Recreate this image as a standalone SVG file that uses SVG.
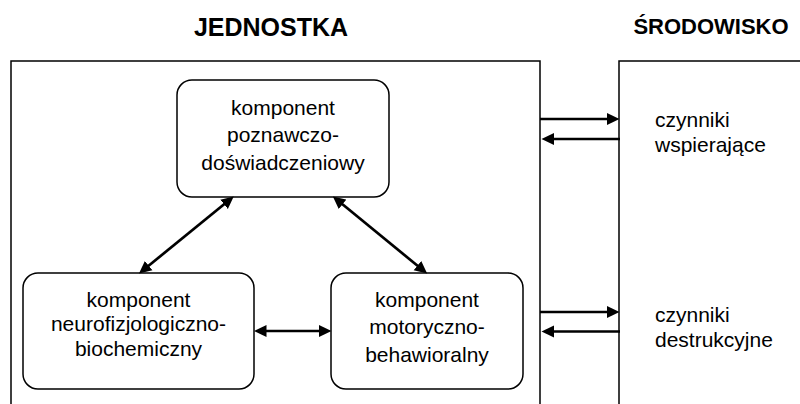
<svg xmlns="http://www.w3.org/2000/svg" width="800" height="404" viewBox="0 0 800 404">
<style>
  text { font-family: "Liberation Sans", Arial, sans-serif; fill: #000; }
  .title { font-weight: bold; text-anchor: middle; }
  .node rect { fill: #fff; stroke: #000; stroke-width: 1.5; }
  .node text { font-size: 21px; text-anchor: middle; }
  .frame { fill: none; stroke: #000; stroke-width: 1.5; }
  .conn { fill: none; stroke: #000; stroke-width: 2.7; }
  .factor { font-size: 21px; }
</style>
<defs>
  <marker id="ah" markerUnits="userSpaceOnUse" markerWidth="13" markerHeight="13" refX="6" refY="6" orient="auto-start-reverse" viewBox="0 0 13 12">
    <path d="M0,0 L12.5,6 L0,12 z" fill="#000"/>
  </marker>
</defs>
<rect width="800" height="404" fill="#fff"/>

<text class="title" x="271" y="36" font-size="25">JEDNOSTKA</text>
<text class="title" x="711" y="34" font-size="22">ŚRODOWISKO</text>

<g id="jednostka-frame"><path class="frame" d="M11,406 V61 H540 V406"/></g>
<g id="srodowisko-frame"><path class="frame" d="M619,406 V61 H802"/></g>

<g id="node-poznawczy" class="node">
  <rect x="177" y="80" width="212" height="117" rx="15"/>
  <text x="283" y="115">komponent</text>
  <text x="283" y="142">poznawczo-</text>
  <text x="283" y="169.5">doświadczeniowy</text>
</g>
<g id="node-neuro" class="node">
  <rect x="23" y="273" width="231" height="116" rx="15"/>
  <text x="138.5" y="307">komponent</text>
  <text x="138.5" y="331">neurofizjologiczno-</text>
  <text x="138.5" y="355.5">biochemiczny</text>
</g>
<g id="node-motoryczny" class="node">
  <rect x="331" y="273" width="192" height="116" rx="15"/>
  <text x="427" y="307">komponent</text>
  <text x="427" y="334">motoryczno-</text>
  <text x="427" y="361.5">behawioralny</text>
</g>

<g id="factor-wspierajace">
  <text class="factor" x="655" y="127">czynniki</text>
  <text class="factor" x="655" y="152">wspierające</text>
</g>
<g id="factor-destrukcyjne">
  <text class="factor" x="655" y="321.5">czynniki</text>
  <text class="factor" x="655" y="346.5">destrukcyjne</text>
</g>

<g id="connectors">
  <line class="conn" x1="228.7" y1="200.5" x2="144" y2="269.5" marker-start="url(#ah)" marker-end="url(#ah)"/>
  <line class="conn" x1="337.9" y1="200.5" x2="422.1" y2="269.5" marker-start="url(#ah)" marker-end="url(#ah)"/>
  <line class="conn" x1="260.5" y1="331" x2="325" y2="331" marker-start="url(#ah)" marker-end="url(#ah)"/>
  <line class="conn" x1="540" y1="119" x2="613" y2="119" marker-end="url(#ah)"/>
  <line class="conn" x1="620" y1="139" x2="548" y2="139" marker-end="url(#ah)"/>
  <line class="conn" x1="540" y1="312" x2="613" y2="312" marker-end="url(#ah)"/>
  <line class="conn" x1="620" y1="331.5" x2="548" y2="331.5" marker-end="url(#ah)"/>
</g>
</svg>
